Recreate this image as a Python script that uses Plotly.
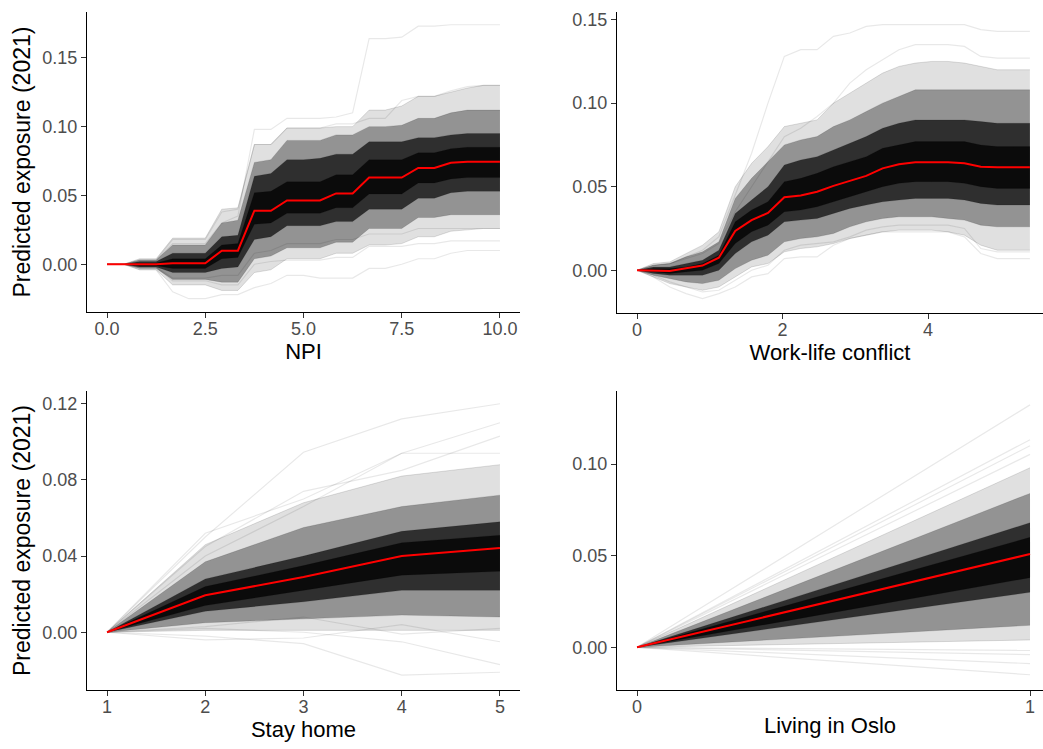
import plotly.graph_objects as go

# ---------------- Panel 1: NPI ----------------
NPI_X = [0, 0.42, 0.83, 1.25, 1.67, 2.08, 2.5, 2.92, 3.33, 3.75, 4.17, 4.58, 5.0,
         5.42, 5.83, 6.25, 6.67, 7.08, 7.5, 7.92, 8.33, 8.75, 9.17, 9.58, 10]
NPI_MEAN = [0, 0, 0, 0, 0.0007, 0.0007, 0.0007, 0.0099, 0.0099, 0.0389, 0.0389, 0.0464, 0.0464,
            0.0464, 0.0515, 0.0515, 0.0630, 0.0630, 0.0630, 0.0700, 0.0700, 0.0738, 0.0745, 0.0745, 0.0745]
NPI_HI3 = [0, 0, 0.004, 0.004, 0.019, 0.019, 0.019, 0.040, 0.041, 0.087, 0.087, 0.099, 0.099,
           0.099, 0.100, 0.100, 0.112, 0.112, 0.115, 0.122, 0.122, 0.125, 0.128, 0.130, 0.130]
NPI_HI2 = [0, 0, 0.003, 0.003, 0.014, 0.014, 0.014, 0.030, 0.032, 0.074, 0.076, 0.090, 0.090,
           0.090, 0.094, 0.094, 0.100, 0.100, 0.101, 0.106, 0.106, 0.110, 0.112, 0.112, 0.112]
NPI_HI1 = [0, 0, 0.002, 0.002, 0.008, 0.008, 0.008, 0.020, 0.021, 0.064, 0.066, 0.076, 0.076,
           0.077, 0.080, 0.080, 0.089, 0.089, 0.089, 0.092, 0.092, 0.094, 0.095, 0.095, 0.095]
NPI_HI0 = [0, 0, 0.001, 0.001, 0.004, 0.004, 0.004, 0.014, 0.015, 0.052, 0.053, 0.060, 0.060,
           0.060, 0.065, 0.065, 0.076, 0.076, 0.076, 0.081, 0.081, 0.084, 0.085, 0.085, 0.085]
NPI_LO0 = [0, 0, -0.001, -0.001, -0.003, -0.003, -0.003, 0.004, 0.005, 0.029, 0.030, 0.037, 0.037,
           0.037, 0.041, 0.041, 0.051, 0.051, 0.051, 0.059, 0.059, 0.062, 0.063, 0.063, 0.063]
NPI_LO1 = [0, 0, -0.002, -0.002, -0.006, -0.006, -0.006, -0.003, -0.002, 0.018, 0.020, 0.028, 0.028,
           0.028, 0.031, 0.031, 0.040, 0.040, 0.040, 0.048, 0.048, 0.052, 0.053, 0.053, 0.053]
NPI_LO2 = [0, 0, -0.003, -0.003, -0.011, -0.011, -0.011, -0.013, -0.013, 0.004, 0.006, 0.012, 0.012,
           0.012, 0.016, 0.016, 0.026, 0.026, 0.026, 0.034, 0.034, 0.036, 0.036, 0.036, 0.036]
NPI_LO3 = [0, 0, -0.004, -0.004, -0.015, -0.015, -0.015, -0.019, -0.019, -0.006, -0.004, 0.004, 0.004,
           0.004, 0.008, 0.008, 0.014, 0.014, 0.015, 0.020, 0.020, 0.024, 0.025, 0.026, 0.026]
NPI_OUT = [
    [0, 0, 0.003, 0.003, 0.015, 0.015, 0.015, 0.030, 0.035, 0.098, 0.098, 0.106, 0.106,
     0.106, 0.107, 0.110, 0.164, 0.164, 0.165, 0.173, 0.173, 0.174, 0.174, 0.174, 0.174],
    [0, 0, 0.003, 0.003, 0.018, 0.018, 0.018, 0.038, 0.040, 0.087, 0.087, 0.099, 0.099,
     0.099, 0.102, 0.102, 0.106, 0.106, 0.119, 0.122, 0.122, 0.126, 0.129, 0.130, 0.130],
    [0, 0, -0.004, -0.004, -0.020, -0.025, -0.025, -0.022, -0.022, -0.017, -0.014, -0.008, -0.008,
     -0.010, -0.010, -0.010, -0.003, -0.003, 0.000, 0.004, 0.004, 0.008, 0.010, 0.010, 0.010],
    [0, 0, -0.002, -0.002, -0.012, -0.012, -0.012, -0.015, -0.015, 0.000, 0.002, 0.003, 0.003,
     0.003, 0.005, 0.005, 0.013, 0.013, 0.013, 0.015, 0.015, 0.017, 0.017, 0.017, 0.017],
    [0, 0, -0.002, -0.002, -0.010, -0.010, -0.010, -0.008, -0.008, 0.008, 0.010, 0.015, 0.015,
     0.015, 0.018, 0.018, 0.022, 0.022, 0.022, 0.026, 0.026, 0.026, 0.026, 0.026, 0.026],
]

# ---------------- Panel 2: Work-life conflict ----------------
WLC_X = [0, 0.225, 0.45, 0.675, 0.9, 1.125, 1.35, 1.575, 1.8, 2.025, 2.25, 2.475, 2.7,
         2.925, 3.15, 3.375, 3.6, 3.825, 4.05, 4.275, 4.5, 4.725, 4.95, 5.175, 5.4]
WLC_MEAN = [0, -0.0002, -0.0005, 0.0012, 0.0028, 0.0075, 0.0235, 0.0300, 0.0343, 0.0437, 0.0447, 0.0470, 0.0505,
            0.0535, 0.0565, 0.0610, 0.0634, 0.0646, 0.0646, 0.0646, 0.0640, 0.0620, 0.0617, 0.0617, 0.0617]
WLC_HI3 = [0, 0.004, 0.005, 0.010, 0.015, 0.023, 0.050, 0.064, 0.074, 0.086, 0.088, 0.090, 0.100,
           0.106, 0.112, 0.118, 0.122, 0.124, 0.125, 0.125, 0.124, 0.122, 0.120, 0.120, 0.120]
WLC_HI2 = [0, 0.003, 0.004, 0.008, 0.011, 0.017, 0.043, 0.055, 0.065, 0.075, 0.078, 0.080, 0.086,
           0.090, 0.095, 0.100, 0.104, 0.108, 0.108, 0.108, 0.108, 0.108, 0.108, 0.108, 0.108]
WLC_HI1 = [0, 0.002, 0.002, 0.004, 0.006, 0.012, 0.034, 0.042, 0.050, 0.063, 0.066, 0.068, 0.072,
           0.076, 0.080, 0.085, 0.088, 0.090, 0.090, 0.090, 0.090, 0.089, 0.088, 0.088, 0.088]
WLC_HI0 = [0, 0.001, 0.001, 0.002, 0.004, 0.009, 0.029, 0.036, 0.041, 0.053, 0.055, 0.058, 0.062,
           0.065, 0.068, 0.073, 0.075, 0.077, 0.077, 0.077, 0.077, 0.075, 0.074, 0.074, 0.074]
WLC_LO0 = [0, -0.001, -0.002, -0.001, 0.000, 0.004, 0.016, 0.023, 0.027, 0.035, 0.036, 0.038, 0.041,
           0.044, 0.047, 0.050, 0.052, 0.053, 0.053, 0.053, 0.052, 0.050, 0.049, 0.049, 0.049]
WLC_LO1 = [0, -0.002, -0.003, -0.003, -0.003, 0.000, 0.010, 0.017, 0.021, 0.029, 0.030, 0.031, 0.034,
           0.037, 0.039, 0.041, 0.042, 0.043, 0.043, 0.043, 0.042, 0.040, 0.039, 0.039, 0.039]
WLC_LO2 = [0, -0.003, -0.005, -0.007, -0.008, -0.006, 0.001, 0.006, 0.009, 0.017, 0.019, 0.020, 0.022,
           0.026, 0.029, 0.031, 0.032, 0.032, 0.032, 0.031, 0.030, 0.027, 0.026, 0.026, 0.026]
WLC_LO3 = [0, -0.004, -0.008, -0.010, -0.012, -0.010, -0.004, 0.002, 0.004, 0.011, 0.013, 0.014, 0.016,
           0.019, 0.021, 0.023, 0.024, 0.024, 0.024, 0.023, 0.021, 0.015, 0.012, 0.012, 0.012]
WLC_OUT = [
    [0, 0.003, 0.004, 0.008, 0.012, 0.020, 0.045, 0.070, 0.100, 0.128, 0.132, 0.132, 0.140,
     0.142, 0.146, 0.147, 0.147, 0.147, 0.147, 0.147, 0.147, 0.144, 0.143, 0.143, 0.143],
    [0, 0.003, 0.004, 0.007, 0.010, 0.016, 0.035, 0.050, 0.065, 0.080, 0.085, 0.092, 0.100,
     0.112, 0.120, 0.126, 0.132, 0.135, 0.135, 0.135, 0.134, 0.128, 0.127, 0.127, 0.127],
    [0, -0.004, -0.010, -0.014, -0.017, -0.014, -0.010, -0.004, -0.002, 0.007, 0.008, 0.008, 0.015,
     0.019, 0.021, 0.023, 0.023, 0.023, 0.023, 0.023, 0.020, 0.010, 0.007, 0.007, 0.007],
    [0, -0.003, -0.007, -0.010, -0.013, -0.012, -0.006, 0.000, 0.003, 0.012, 0.015, 0.016, 0.017,
     0.020, 0.024, 0.026, 0.027, 0.027, 0.027, 0.027, 0.025, 0.013, 0.011, 0.011, 0.011],
]

# ---------------- Panel 3: Stay home ----------------
STAY_X = [1, 2, 3, 4, 5]
STAY_MEAN = [0, 0.0194, 0.029, 0.040, 0.0442]
STAY_HI3 = [0, 0.046, 0.068, 0.082, 0.088]
STAY_HI2 = [0, 0.037, 0.055, 0.066, 0.072]
STAY_HI1 = [0, 0.028, 0.040, 0.053, 0.058]
STAY_HI0 = [0, 0.024, 0.035, 0.047, 0.051]
STAY_LO0 = [0, 0.014, 0.022, 0.030, 0.032]
STAY_LO1 = [0, 0.011, 0.016, 0.022, 0.022]
STAY_LO2 = [0, 0.005, 0.007, 0.009, 0.008]
STAY_LO3 = [0, 0.001, 0.001, 0.001, 0.001]
STAY_OUT = [
    [0, 0.050, 0.0945, 0.112, 0.120],
    [0, 0.052, 0.070, 0.094, 0.110],
    [0, 0.045, 0.074, 0.085, 0.103],
    [0, 0.040, 0.066, 0.094, 0.094],
    [0, -0.002, -0.006, -0.0225, -0.021],
    [0, 0.002, 0.000, -0.005, -0.017],
    [0, -0.004, -0.003, 0.004, -0.005],
    [0, 0.003, 0.008, -0.001, 0.002],
]

# ---------------- Panel 4: Living in Oslo ----------------
OSLO_X = [0, 1]
OSLO_MEAN = [0, 0.0509]
OSLO_HI3 = [0, 0.098]
OSLO_HI2 = [0, 0.084]
OSLO_HI1 = [0, 0.068]
OSLO_HI0 = [0, 0.060]
OSLO_LO0 = [0, 0.038]
OSLO_LO1 = [0, 0.030]
OSLO_LO2 = [0, 0.012]
OSLO_LO3 = [0, 0.004]
OSLO_OUT = [
    [0, 0.1323], [0, 0.1133], [0, 0.110], [0, 0.1053],
    [0, -0.0017], [0, -0.0089], [0, -0.015], [0, -0.004],
]

# ---------------- Axis labels / ticks ----------------
X_TITLES = ["NPI", "Work-life conflict", "Stay home", "Living in Oslo"]
Y_TITLE = "Predicted exposure (2021)"
X_TICKS = [[0, 2.5, 5, 7.5, 10], [0, 2, 4], [1, 2, 3, 4, 5], [0, 1]]
X_TICKTEXT = [["0.0", "2.5", "5.0", "7.5", "10.0"], ["0", "2", "4"], ["1", "2", "3", "4", "5"], ["0", "1"]]
Y_TICKS = [[0, 0.05, 0.10, 0.15], [0, 0.05, 0.10, 0.15], [0, 0.04, 0.08, 0.12], [0, 0.05, 0.10]]
Y_TICKTEXT = [["0.00", "0.05", "0.10", "0.15"], ["0.00", "0.05", "0.10", "0.15"],
              ["0.00", "0.04", "0.08", "0.12"], ["0.00", "0.05", "0.10"]]

panels = [
    dict(x=NPI_X, mean=NPI_MEAN, out=NPI_OUT,
         bands=[(NPI_LO3, NPI_HI3), (NPI_LO2, NPI_HI2), (NPI_LO1, NPI_HI1), (NPI_LO0, NPI_HI0)]),
    dict(x=WLC_X, mean=WLC_MEAN, out=WLC_OUT,
         bands=[(WLC_LO3, WLC_HI3), (WLC_LO2, WLC_HI2), (WLC_LO1, WLC_HI1), (WLC_LO0, WLC_HI0)]),
    dict(x=STAY_X, mean=STAY_MEAN, out=STAY_OUT,
         bands=[(STAY_LO3, STAY_HI3), (STAY_LO2, STAY_HI2), (STAY_LO1, STAY_HI1), (STAY_LO0, STAY_HI0)]),
    dict(x=OSLO_X, mean=OSLO_MEAN, out=OSLO_OUT,
         bands=[(OSLO_LO3, OSLO_HI3), (OSLO_LO2, OSLO_HI2), (OSLO_LO1, OSLO_HI1), (OSLO_LO0, OSLO_HI0)]),
]

W, H = 1043, 749
# plot area pixel boxes (left, right, top, bottom)
boxes = [(87, 520, 10, 311), (617, 1043, 10, 312), (87, 520, 390, 690), (617, 1043, 390, 690)]
x_ranges = [[-0.51, 10.51], [-0.275, 5.58], [0.796, 5.204], [-0.051, 1.033]]
y_ranges = [[-0.0348, 0.1833], [-0.0257, 0.1546], [-0.0304, 0.1267], [-0.0234, 0.1399]]

band_alpha = [0.12, 0.34, 0.68, 0.75]

fig = go.Figure()
for i, p in enumerate(panels):
    xa = "x" if i == 0 else f"x{i+1}"
    ya = "y" if i == 0 else f"y{i+1}"
    for o in p["out"]:
        fig.add_trace(go.Scatter(x=p["x"], y=o, mode="lines", xaxis=xa, yaxis=ya,
                                 line=dict(color="rgba(0,0,0,0.09)", width=1.2),
                                 showlegend=False, hoverinfo="skip"))
    for (lo, hi), a in zip(p["bands"], band_alpha):
        fig.add_trace(go.Scatter(x=list(p["x"]) + list(p["x"])[::-1],
                                 y=list(hi) + list(lo)[::-1],
                                 mode="lines", fill="toself", xaxis=xa, yaxis=ya,
                                 fillcolor=f"rgba(0,0,0,{a})", line=dict(width=0),
                                 showlegend=False, hoverinfo="skip"))
    # faint edge lines at each band boundary for a line-like texture
    for (lo, hi) in p["bands"]:
        for edge in (lo, hi):
            fig.add_trace(go.Scatter(x=p["x"], y=edge, mode="lines", xaxis=xa, yaxis=ya,
                                     line=dict(color="rgba(0,0,0,0.12)", width=1),
                                     showlegend=False, hoverinfo="skip"))
    fig.add_trace(go.Scatter(x=p["x"], y=p["mean"], mode="lines", xaxis=xa, yaxis=ya,
                             line=dict(color="#FF0000", width=2),
                             showlegend=False, hoverinfo="skip"))

font_family = "Arial, Liberation Sans, sans-serif"
layout = dict(width=W, height=H, margin=dict(l=0, r=0, t=0, b=0),
              paper_bgcolor="white", plot_bgcolor="white", hovermode=False,
              font=dict(family=font_family, color="black"), showlegend=False)

for i in range(4):
    l, r, t, b = boxes[i]
    xkey = "xaxis" if i == 0 else f"xaxis{i+1}"
    ykey = "yaxis" if i == 0 else f"yaxis{i+1}"
    yanchor = "y" if i == 0 else f"y{i+1}"
    xanchor = "x" if i == 0 else f"x{i+1}"
    common = dict(showline=True, linecolor="black", linewidth=1.3, ticks="outside",
                  ticklen=5, tickwidth=1.1, tickcolor="#333333", showgrid=False,
                  zeroline=False, ticklabeloverflow="allow",
                  tickfont=dict(size=18, color="#4D4D4D", family=font_family))
    layout[xkey] = dict(common, domain=[l / W, r / W], range=x_ranges[i], anchor=yanchor,
                        tickvals=X_TICKS[i], ticktext=X_TICKTEXT[i], ticklabelstandoff=-5,
                        title=dict(text=X_TITLES[i], font=dict(size=22, color="black"), standoff=1))
    ydict = dict(common, domain=[1 - b / H, 1 - t / H], range=y_ranges[i], anchor=xanchor,
                 tickvals=Y_TICKS[i], ticktext=Y_TICKTEXT[i])
    if i in (0, 2):
        ydict["title"] = dict(text=Y_TITLE, font=dict(size=23, color="black"), standoff=5)
    layout[ykey] = ydict

fig.update_layout(**layout)
fig.write_html("out.html", config={"displayModeBar": False},
               post_script="document.body.style.margin='0';document.body.style.overflow='hidden';")
